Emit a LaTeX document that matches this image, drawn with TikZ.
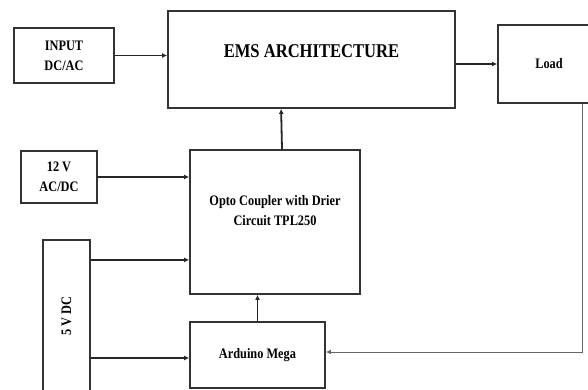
\documentclass[tikz,border=0pt]{standalone}
\usepackage{fontspec}
\setmainfont{Liberation Serif}
\newfontfamily\narrowserif[FakeStretch=0.85]{Liberation Serif}
\usetikzlibrary{
    arrows.meta,
    positioning,
    calc
}
\tikzset{
    block/.style={
        draw=black!80,
        line width=1.8pt,
        align=center,
        inner sep=0pt,
        font=\narrowserif\bfseries\fontsize{14.5}{20}\selectfont
    }
}
\tikzset{
    flow/.style={
        draw=black!85,
        line width=1.8pt,
        -{Latex[length=5pt,width=5pt]}
    }
}
\tikzset{
    feedback/.style={
        draw=black!60,
        line width=1pt,
        -{Latex[length=5pt,width=5pt]}
    }
}

\begin{document}
\begin{tikzpicture}[
    x=1pt,
    y=-1pt
]

\clip (0,0) rectangle (588,390);

% ------------------------------------------------------------
% Top row
% ------------------------------------------------------------

\node[block, minimum width=100pt, minimum height=55pt] (input)
    at (64,55.5) {INPUT\\DC/AC};

\node[block, minimum width=287pt, minimum height=97pt,
    font=\narrowserif\bfseries\fontsize{19.5}{20}\selectfont] (ems)
    at (311.5,59.5) {\raisebox{2pt}[0pt][0pt]{EMS ARCHITECTURE}};

\node[block, minimum width=102pt, minimum height=78pt] (load)
    at (549,64) {Load};

% ------------------------------------------------------------
% Supplies
% ------------------------------------------------------------

\node[block, minimum width=76pt, minimum height=52pt] (twelve)
    at (59,177) {12 V\\AC/DC};

\node[block, minimum width=47pt, minimum height=152pt] (fivev)
    at (66.5,316) {\rotatebox{90}{5 V DC}};

% ------------------------------------------------------------
% Driver and controller
% ------------------------------------------------------------

\node[block, minimum width=170pt, minimum height=144pt] (opto)
    at (275,222) {\raisebox{7pt}[0pt][0pt]{\begin{tabular}{@{}c@{}}Opto Coupler with Drier\\Circuit TPL250\end{tabular}}};

\node[block, minimum width=135pt, minimum height=66pt] (arduino)
    at (257.5,355) {Arduino Mega};

% ------------------------------------------------------------
% Connections
% ------------------------------------------------------------

\coordinate (optoin) at ($(opto.south west)+(0,-35)$);
\coordinate (ardin) at ($(arduino.west)+(0,3)$);

\draw[flow] (input.east) -- (input.east -| ems.west);

\draw[flow] (load.west -| ems.east) -- (load.west);

\draw[flow] (twelve.east) -- (twelve.east -| opto.west);

\draw[flow] (fivev.east |- optoin) -- (optoin);

\draw[flow] (fivev.east |- ardin) -- (ardin);

\draw[flow] (arduino.north) -- (opto.south -| arduino.north);

\draw[flow] ($(opto.north)+(7,0)$) -- ($(ems.south west)+(114,0)$);

\draw[feedback] ($(load.south west)+(85,0)$) |- ($(arduino.east)+(0,-3)$);

\end{tikzpicture}
\end{document}
